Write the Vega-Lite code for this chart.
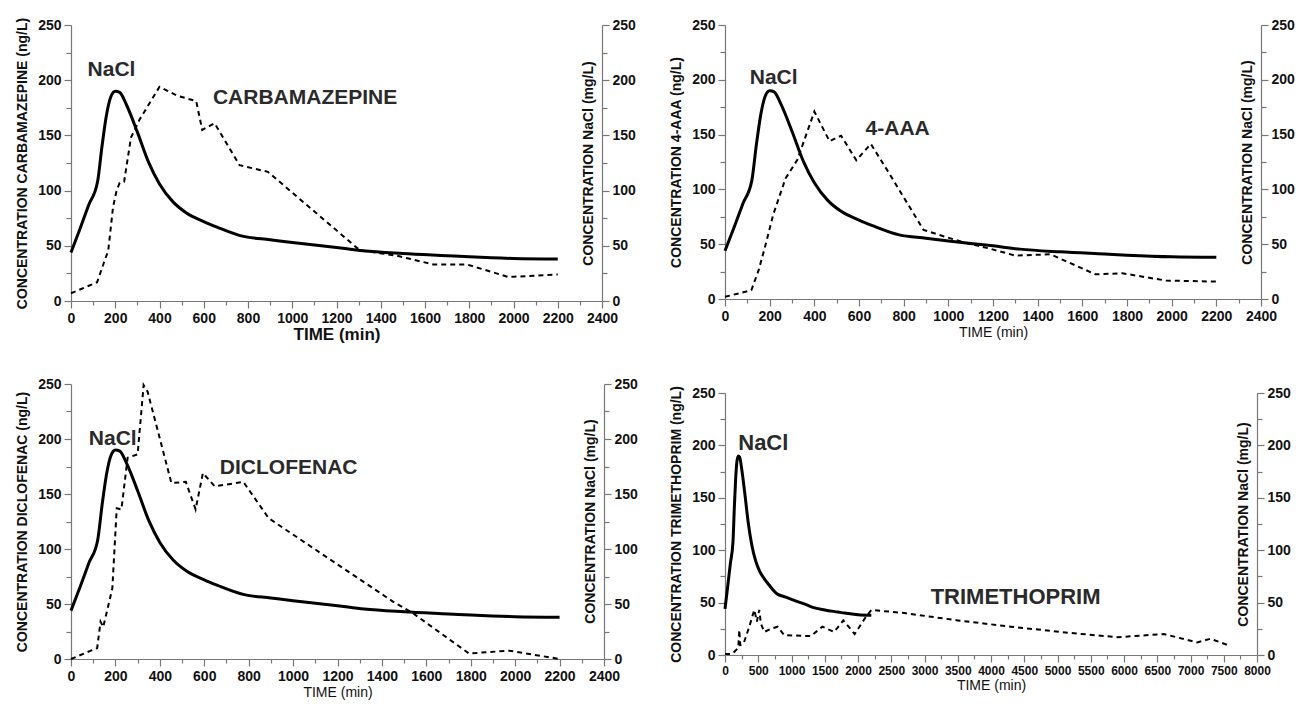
{
  "$schema": "https://vega.github.io/schema/vega-lite/v6.json",
  "padding": {"left": 15, "top": 17, "right": 5, "bottom": 5},
  "background": "white",
  "datasets": {
    "nacl": [
      {"t": 0, "c": 44}, {"t": 40, "c": 65}, {"t": 80, "c": 87}, {"t": 120, "c": 108},
      {"t": 140, "c": 140}, {"t": 160, "c": 168}, {"t": 180, "c": 185}, {"t": 200, "c": 190},
      {"t": 220, "c": 189}, {"t": 250, "c": 178}, {"t": 300, "c": 153}, {"t": 350, "c": 126},
      {"t": 400, "c": 106}, {"t": 460, "c": 90}, {"t": 520, "c": 80}, {"t": 600, "c": 72},
      {"t": 660, "c": 67}, {"t": 780, "c": 58.5}, {"t": 900, "c": 55.5}, {"t": 1000, "c": 53},
      {"t": 1200, "c": 48.5}, {"t": 1320, "c": 45.5}, {"t": 1500, "c": 43}, {"t": 1700, "c": 41},
      {"t": 1800, "c": 40}, {"t": 2000, "c": 38.5}, {"t": 2200, "c": 38}
    ],
    "carb": [
      {"t": 0, "c": 7}, {"t": 118, "c": 17}, {"t": 158, "c": 40}, {"t": 168, "c": 45},
      {"t": 190, "c": 85}, {"t": 206, "c": 100}, {"t": 220, "c": 107}, {"t": 240, "c": 108},
      {"t": 271, "c": 148}, {"t": 309, "c": 164}, {"t": 400, "c": 194}, {"t": 480, "c": 186},
      {"t": 566, "c": 181}, {"t": 593, "c": 155}, {"t": 649, "c": 161}, {"t": 762, "c": 123},
      {"t": 890, "c": 117}, {"t": 1305, "c": 46}, {"t": 1473, "c": 41}, {"t": 1639, "c": 33},
      {"t": 1791, "c": 33}, {"t": 1973, "c": 22}, {"t": 2003, "c": 22}, {"t": 2200, "c": 24}
    ],
    "aaa": [
      {"t": 0, "c": 2}, {"t": 118, "c": 8}, {"t": 151, "c": 26.5}, {"t": 181, "c": 49},
      {"t": 216, "c": 77}, {"t": 271, "c": 110}, {"t": 324, "c": 127}, {"t": 400, "c": 171},
      {"t": 468, "c": 144}, {"t": 520, "c": 149}, {"t": 588, "c": 126.5}, {"t": 653, "c": 141.5},
      {"t": 731, "c": 116}, {"t": 889, "c": 63}, {"t": 1062, "c": 52}, {"t": 1185, "c": 46},
      {"t": 1300, "c": 39.6}, {"t": 1457, "c": 40.8}, {"t": 1659, "c": 22.5}, {"t": 1779, "c": 23.5},
      {"t": 1975, "c": 16.8}, {"t": 2200, "c": 15.9}
    ],
    "diclo": [
      {"t": 0, "c": 0}, {"t": 118, "c": 10}, {"t": 133, "c": 34}, {"t": 145, "c": 29},
      {"t": 186, "c": 64}, {"t": 206, "c": 137}, {"t": 227, "c": 136}, {"t": 255, "c": 183},
      {"t": 300, "c": 186}, {"t": 327, "c": 249}, {"t": 345, "c": 243}, {"t": 452, "c": 160},
      {"t": 517, "c": 161}, {"t": 561, "c": 136}, {"t": 594, "c": 169}, {"t": 647, "c": 157},
      {"t": 776, "c": 161}, {"t": 890, "c": 128}, {"t": 1451, "c": 52}, {"t": 1537, "c": 42},
      {"t": 1792, "c": 5}, {"t": 1973, "c": 7.6}, {"t": 2200, "c": 0}
    ],
    "trim": [
      {"t": 0, "c": 1}, {"t": 90, "c": 1}, {"t": 140, "c": 3}, {"t": 200, "c": 7},
      {"t": 215, "c": 24}, {"t": 230, "c": 9.5}, {"t": 280, "c": 11}, {"t": 365, "c": 27},
      {"t": 440, "c": 43}, {"t": 480, "c": 32}, {"t": 515, "c": 43}, {"t": 540, "c": 30},
      {"t": 590, "c": 22}, {"t": 690, "c": 25}, {"t": 790, "c": 27}, {"t": 890, "c": 19},
      {"t": 1290, "c": 18}, {"t": 1465, "c": 27}, {"t": 1640, "c": 22}, {"t": 1780, "c": 33},
      {"t": 1950, "c": 20}, {"t": 2115, "c": 36}, {"t": 2200, "c": 43}, {"t": 2700, "c": 40},
      {"t": 3500, "c": 33}, {"t": 4300, "c": 27}, {"t": 5200, "c": 21}, {"t": 5900, "c": 17},
      {"t": 6600, "c": 20}, {"t": 7100, "c": 12}, {"t": 7300, "c": 15.5}, {"t": 7560, "c": 9.5}
    ],
    "labels": [
      {"panel": "p1", "t": 183, "c": 209, "label": "NaCl"},
      {"panel": "p1", "t": 1058, "c": 184, "label": "CARBAMAZEPINE"},
      {"panel": "p2", "t": 218, "c": 202, "label": "NaCl"},
      {"panel": "p2", "t": 773, "c": 155, "label": "4-AAA"},
      {"panel": "p3", "t": 188, "c": 200, "label": "NaCl"},
      {"panel": "p3", "t": 980, "c": 174, "label": "DICLOFENAC"},
      {"panel": "p4", "t": 576, "c": 202, "label": "NaCl"},
      {"panel": "p4", "t": 4370, "c": 55, "label": "TRIMETHOPRIM"}
    ]
  },
  "config": {
    "view": {"stroke": null},
    "axis": {
      "grid": false,
      "domainColor": "#777777",
      "tickColor": "#777777",
      "domainWidth": 1.2,
      "tickWidth": 1.2,
      "labelFont": "Liberation Sans",
      "labelFontWeight": "bold",
      "labelFontSize": 14,
      "labelColor": "#111111",
      "labelFlush": false,
      "labelOverlap": false,
      "labelPadding": 3,
      "format": "d",
      "titleFont": "Liberation Sans",
      "titleFontWeight": "bold",
      "titleFontSize": 14,
      "titleColor": "#111111"
    }
  },
  "spacing": 31,
  "hconcat": [
    {
      "spacing": 35,
      "vconcat": [
        {
          "width": 531, "height": 276,
          "layer": [
            {
              "data": {"name": "carb"},
              "mark": {"type": "line", "color": "black", "strokeWidth": 2, "strokeDash": [5, 4]},
              "encoding": {
                "x": {"field": "t", "type": "quantitative", "scale": {"domain": [0, 2400], "nice": false},
                      "axis": {"orient": "bottom", "values": [0,200,400,600,800,1000,1200,1400,1600,1800,2000,2200,2400], "tickSize": 7, "title": "TIME (min)", "titleFontSize": 17, "titlePadding": 1}},
                "y": {"field": "c", "type": "quantitative", "scale": {"domain": [0, 250], "nice": false},
                      "axis": {"orient": "left", "values": [0,50,100,150,200,250], "tickSize": 7, "title": "CONCENTRATION CARBAMAZEPINE (ng/L)", "titlePadding": 8}}
              }
            },
            {
              "data": {"name": "nacl"},
              "mark": {"type": "line", "color": "black", "strokeWidth": 3, "interpolate": "monotone"},
              "encoding": {
                "x": {"field": "t", "type": "quantitative", "scale": {"domain": [0, 2400], "nice": false},
                      "axis": {"orient": "bottom", "values": [100,300,500,700,900,1100,1300,1500,1700,1900,2100,2300], "tickSize": 4, "labels": false, "domain": false, "title": null}},
                "y": {"field": "c", "type": "quantitative", "scale": {"domain": [0, 250], "nice": false},
                      "axis": {"orient": "right", "values": [0,50,100,150,200,250], "tickSize": 7, "title": "CONCENTRATION NaCl (mg/L)", "titleAngle": 270, "titleX": -14, "titleY": 138, "titleAlign": "center", "titleBaseline": "middle"}}
              }
            },
            {
              "data": {"name": "carb"},
              "mark": {"type": "line", "opacity": 0},
              "encoding": {
                "x": {"field": "t", "type": "quantitative", "scale": {"domain": [0, 2400], "nice": false}, "axis": null},
                "y": {"field": "c", "type": "quantitative", "scale": {"domain": [0, 250], "nice": false},
                      "axis": {"orient": "left", "values": [25,75,125,175,225], "tickSize": 5, "labels": false, "domain": false, "title": null}}
              }
            },
            {
              "data": {"name": "nacl"},
              "mark": {"type": "line", "opacity": 0},
              "encoding": {
                "x": {"field": "t", "type": "quantitative", "scale": {"domain": [0, 2400], "nice": false}, "axis": null},
                "y": {"field": "c", "type": "quantitative", "scale": {"domain": [0, 250], "nice": false},
                      "axis": {"orient": "right", "values": [25,75,125,175,225], "tickSize": 5, "labels": false, "domain": false, "title": null}}
              }
            },
            {
              "data": {"name": "labels"},
              "transform": [{"filter": "datum.panel == 'p1'"}],
              "mark": {"type": "text", "font": "Liberation Sans", "fontWeight": "bold", "fontSize": 21, "color": "#2a2a2a", "align": "center", "baseline": "middle"},
              "encoding": {
                "x": {"field": "t", "type": "quantitative", "scale": {"domain": [0, 2400], "nice": false}, "axis": null},
                "y": {"field": "c", "type": "quantitative", "scale": {"domain": [0, 250], "nice": false}, "axis": null},
                "text": {"field": "label"}
              }
            }
          ],
          "resolve": {"axis": {"x": "independent", "y": "independent"}}
        },
        {
          "width": 533, "height": 275,
          "layer": [
            {
              "data": {"name": "diclo"},
              "mark": {"type": "line", "color": "black", "strokeWidth": 2, "strokeDash": [5, 4]},
              "encoding": {
                "x": {"field": "t", "type": "quantitative", "scale": {"domain": [0, 2400], "nice": false},
                      "axis": {"orient": "bottom", "values": [0,200,400,600,800,1000,1200,1400,1600,1800,2000,2200,2400], "tickSize": 7, "title": "TIME (min)", "titleFontWeight": "normal", "titlePadding": 2}},
                "y": {"field": "c", "type": "quantitative", "scale": {"domain": [0, 250], "nice": false},
                      "axis": {"orient": "left", "values": [0,50,100,150,200,250], "tickSize": 7, "title": "CONCENTRATION DICLOFENAC (ng/L)", "titlePadding": 8}}
              }
            },
            {
              "data": {"name": "nacl"},
              "mark": {"type": "line", "color": "black", "strokeWidth": 3, "interpolate": "monotone"},
              "encoding": {
                "x": {"field": "t", "type": "quantitative", "scale": {"domain": [0, 2400], "nice": false},
                      "axis": {"orient": "bottom", "values": [100,300,500,700,900,1100,1300,1500,1700,1900,2100,2300], "tickSize": 4, "labels": false, "domain": false, "title": null}},
                "y": {"field": "c", "type": "quantitative", "scale": {"domain": [0, 250], "nice": false},
                      "axis": {"orient": "right", "values": [0,50,100,150,200,250], "tickSize": 7, "title": "CONCENTRATION NaCl (mg/L)", "titleAngle": 270, "titleX": -14, "titleY": 137, "titleAlign": "center", "titleBaseline": "middle"}}
              }
            },
            {
              "data": {"name": "diclo"},
              "mark": {"type": "line", "opacity": 0},
              "encoding": {
                "x": {"field": "t", "type": "quantitative", "scale": {"domain": [0, 2400], "nice": false}, "axis": null},
                "y": {"field": "c", "type": "quantitative", "scale": {"domain": [0, 250], "nice": false},
                      "axis": {"orient": "left", "values": [25,75,125,175,225], "tickSize": 5, "labels": false, "domain": false, "title": null}}
              }
            },
            {
              "data": {"name": "nacl"},
              "mark": {"type": "line", "opacity": 0},
              "encoding": {
                "x": {"field": "t", "type": "quantitative", "scale": {"domain": [0, 2400], "nice": false}, "axis": null},
                "y": {"field": "c", "type": "quantitative", "scale": {"domain": [0, 250], "nice": false},
                      "axis": {"orient": "right", "values": [25,75,125,175,225], "tickSize": 5, "labels": false, "domain": false, "title": null}}
              }
            },
            {
              "data": {"name": "labels"},
              "transform": [{"filter": "datum.panel == 'p3'"}],
              "mark": {"type": "text", "font": "Liberation Sans", "fontWeight": "bold", "fontSize": 21, "color": "#2a2a2a", "align": "center", "baseline": "middle"},
              "encoding": {
                "x": {"field": "t", "type": "quantitative", "scale": {"domain": [0, 2400], "nice": false}, "axis": null},
                "y": {"field": "c", "type": "quantitative", "scale": {"domain": [0, 250], "nice": false}, "axis": null},
                "text": {"field": "label"}
              }
            }
          ],
          "resolve": {"axis": {"x": "independent", "y": "independent"}}
        }
      ]
    },
    {
      "spacing": 46,
      "vconcat": [
        {
          "width": 536, "height": 274,
          "layer": [
            {
              "data": {"name": "aaa"},
              "mark": {"type": "line", "color": "black", "strokeWidth": 2, "strokeDash": [5, 4]},
              "encoding": {
                "x": {"field": "t", "type": "quantitative", "scale": {"domain": [0, 2400], "nice": false},
                      "axis": {"orient": "bottom", "values": [0,200,400,600,800,1000,1200,1400,1600,1800,2000,2200,2400], "tickSize": 7, "title": "TIME (min)", "titleFontWeight": "normal", "titlePadding": 2}},
                "y": {"field": "c", "type": "quantitative", "scale": {"domain": [0, 250], "nice": false},
                      "axis": {"orient": "left", "values": [0,50,100,150,200,250], "tickSize": 7, "title": "CONCENTRATION 4-AAA (ng/L)", "titlePadding": 8}}
              }
            },
            {
              "data": {"name": "nacl"},
              "mark": {"type": "line", "color": "black", "strokeWidth": 3, "interpolate": "monotone"},
              "encoding": {
                "x": {"field": "t", "type": "quantitative", "scale": {"domain": [0, 2400], "nice": false},
                      "axis": {"orient": "bottom", "values": [100,300,500,700,900,1100,1300,1500,1700,1900,2100,2300], "tickSize": 4, "labels": false, "domain": false, "title": null}},
                "y": {"field": "c", "type": "quantitative", "scale": {"domain": [0, 250], "nice": false},
                      "axis": {"orient": "right", "values": [0,50,100,150,200,250], "tickSize": 7, "title": "CONCENTRATION NaCl (mg/L)", "titleAngle": 270, "titleX": -14, "titleY": 137, "titleAlign": "center", "titleBaseline": "middle"}}
              }
            },
            {
              "data": {"name": "aaa"},
              "mark": {"type": "line", "opacity": 0},
              "encoding": {
                "x": {"field": "t", "type": "quantitative", "scale": {"domain": [0, 2400], "nice": false}, "axis": null},
                "y": {"field": "c", "type": "quantitative", "scale": {"domain": [0, 250], "nice": false},
                      "axis": {"orient": "left", "values": [25,75,125,175,225], "tickSize": 5, "labels": false, "domain": false, "title": null}}
              }
            },
            {
              "data": {"name": "nacl"},
              "mark": {"type": "line", "opacity": 0},
              "encoding": {
                "x": {"field": "t", "type": "quantitative", "scale": {"domain": [0, 2400], "nice": false}, "axis": null},
                "y": {"field": "c", "type": "quantitative", "scale": {"domain": [0, 250], "nice": false},
                      "axis": {"orient": "right", "values": [25,75,125,175,225], "tickSize": 5, "labels": false, "domain": false, "title": null}}
              }
            },
            {
              "data": {"name": "labels"},
              "transform": [{"filter": "datum.panel == 'p2'"}],
              "mark": {"type": "text", "font": "Liberation Sans", "fontWeight": "bold", "fontSize": 21, "color": "#2a2a2a", "align": "center", "baseline": "middle"},
              "encoding": {
                "x": {"field": "t", "type": "quantitative", "scale": {"domain": [0, 2400], "nice": false}, "axis": null},
                "y": {"field": "c", "type": "quantitative", "scale": {"domain": [0, 250], "nice": false}, "axis": null},
                "text": {"field": "label"}
              }
            }
          ],
          "resolve": {"axis": {"x": "independent", "y": "independent"}}
        },
        {
          "width": 532, "height": 262,
          "layer": [
            {
              "data": {"name": "trim"},
              "mark": {"type": "line", "color": "black", "strokeWidth": 2, "strokeDash": [5, 4]},
              "encoding": {
                "x": {"field": "t", "type": "quantitative", "scale": {"domain": [0, 8000], "nice": false},
                      "axis": {"orient": "bottom", "values": [0,500,1000,1500,2000,2500,3000,3500,4000,4500,5000,5500,6000,6500,7000,7500,8000], "tickSize": 7, "labelFontSize": 12, "title": "TIME (min)", "titleFontWeight": "normal", "titlePadding": 2}},
                "y": {"field": "c", "type": "quantitative", "scale": {"domain": [0, 250], "nice": false},
                      "axis": {"orient": "left", "values": [0,50,100,150,200,250], "tickSize": 7, "title": "CONCENTRATION TRIMETHOPRIM (ng/L)", "titlePadding": 8}}
              }
            },
            {
              "data": {"name": "nacl"},
              "mark": {"type": "line", "color": "black", "strokeWidth": 3, "interpolate": "monotone"},
              "encoding": {
                "x": {"field": "t", "type": "quantitative", "scale": {"domain": [0, 8000], "nice": false},
                      "axis": {"orient": "bottom", "values": [250,750,1250,1750,2250,2750,3250,3750,4250,4750,5250,5750,6250,6750,7250,7750], "tickSize": 4, "labels": false, "domain": false, "title": null}},
                "y": {"field": "c", "type": "quantitative", "scale": {"domain": [0, 250], "nice": false},
                      "axis": {"orient": "right", "values": [0,50,100,150,200,250], "tickSize": 7, "title": "CONCENTRATION NaCl (mg/L)", "titleAngle": 270, "titleX": -14, "titleY": 131, "titleAlign": "center", "titleBaseline": "middle"}}
              }
            },
            {
              "data": {"name": "trim"},
              "mark": {"type": "line", "opacity": 0},
              "encoding": {
                "x": {"field": "t", "type": "quantitative", "scale": {"domain": [0, 8000], "nice": false}, "axis": null},
                "y": {"field": "c", "type": "quantitative", "scale": {"domain": [0, 250], "nice": false},
                      "axis": {"orient": "left", "values": [25,75,125,175,225], "tickSize": 5, "labels": false, "domain": false, "title": null}}
              }
            },
            {
              "data": {"name": "nacl"},
              "mark": {"type": "line", "opacity": 0},
              "encoding": {
                "x": {"field": "t", "type": "quantitative", "scale": {"domain": [0, 8000], "nice": false}, "axis": null},
                "y": {"field": "c", "type": "quantitative", "scale": {"domain": [0, 250], "nice": false},
                      "axis": {"orient": "right", "values": [25,75,125,175,225], "tickSize": 5, "labels": false, "domain": false, "title": null}}
              }
            },
            {
              "data": {"name": "labels"},
              "transform": [{"filter": "datum.panel == 'p4'"}],
              "mark": {"type": "text", "font": "Liberation Sans", "fontWeight": "bold", "fontSize": 22, "color": "#2a2a2a", "align": "center", "baseline": "middle"},
              "encoding": {
                "x": {"field": "t", "type": "quantitative", "scale": {"domain": [0, 8000], "nice": false}, "axis": null},
                "y": {"field": "c", "type": "quantitative", "scale": {"domain": [0, 250], "nice": false}, "axis": null},
                "text": {"field": "label"}
              }
            }
          ],
          "resolve": {"axis": {"x": "independent", "y": "independent"}}
        }
      ]
    }
  ]
}
